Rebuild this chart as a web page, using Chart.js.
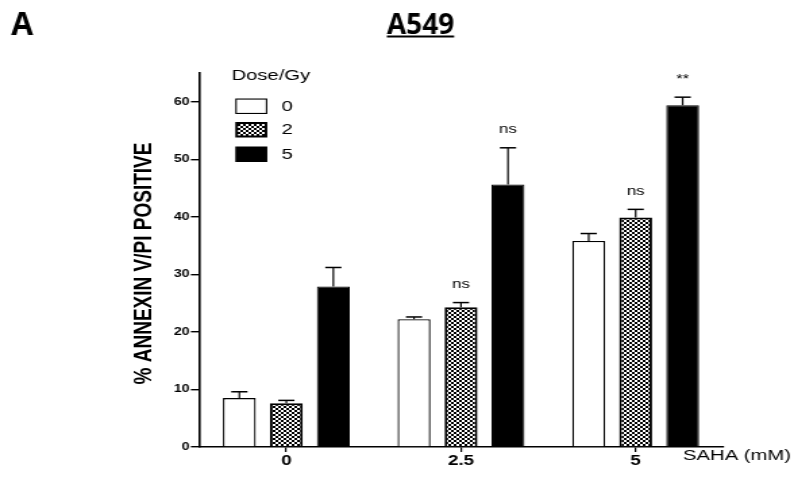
<!DOCTYPE html>
<html><head><meta charset="utf-8">
<script src="https://cdn.jsdelivr.net/npm/chart.js@4"></script>
<style>
html,body{margin:0;padding:0;background:#fff;overflow:hidden}
#wrap{width:588px;height:478px;transform:scaleX(1.3503401);transform-origin:0 0}
#c{display:block}
</style>
</head><body>
<div id="wrap"><canvas id="c" width="588" height="478" style="width:588px;height:478px"></canvas></div>
<script>
// ---- data ----
const categories = ['0', '2.5', '5'];          // SAHA (mM)
const doseLabels = ['0', '2', '5'];            // Dose/Gy
const dose0 = [8.5, 22.2, 35.8];
const dose2 = [7.6, 24.3, 39.9];
const dose5 = [27.9, 45.6, 59.4];
const err0 = [1.1, 0.4, 1.3];
const err2 = [0.5, 0.8, 1.4];
const err5 = [3.3, 6.4, 1.4];
const sig0 = ['', '', ''];
const sig2 = ['', 'ns', 'ns'];
const sig5 = ['', 'ns', '**'];
const yTicks = [0, 10, 20, 30, 40, 50, 60];
const yMax = 65;

// ---- horizontal stretch of the original figure ----
const S = 794 / 588;
const X = v => v / S;   // original px -> internal canvas px

const canvas = document.getElementById('c');
const ctx0 = canvas.getContext('2d');
const pc = document.createElement('canvas');
pc.width = 4; pc.height = 4;
const pctx = pc.getContext('2d');
pctx.fillStyle = '#fff'; pctx.fillRect(0, 0, 4, 4);
pctx.fillStyle = '#000'; pctx.fillRect(0, 0, 2, 2); pctx.fillRect(2, 2, 2, 2);
const checker = ctx0.createPattern(pc, 'repeat');

const fills = ['#ffffff', checker, '#000000'];
const borderW = [1.3, 2, 1];
const errs = [err0, err2, err5];
const sigs = [sig0, sig2, sig5];
const FONT = '"Liberation Sans", Arial, sans-serif';

const datasets = [dose0, dose2, dose5].map((d, i) => ({
  label: doseLabels[i],
  data: d,
  backgroundColor: fills[i],
  borderColor: '#000',
  borderWidth: borderW[i],
  borderSkipped: 'start',
  categoryPercentage: 0.807,
  barPercentage: 0.70
}));

const extras = {
  id: 'extras',
  afterDatasetsDraw(chart) {
    const ctx = chart.ctx;
    const ys = chart.scales.y;
    ctx.save();
    chart.data.datasets.forEach((ds, di) => {
      const meta = chart.getDatasetMeta(di);
      meta.data.forEach((bar, i) => {
        const top = ys.getPixelForValue(ds.data[i] + errs[di][i]);
        const x = bar.x;
        ctx.strokeStyle = '#000';
        ctx.lineWidth = 1.2;
        ctx.beginPath();
        ctx.moveTo(x, bar.y);
        ctx.lineTo(x, top);
        ctx.stroke();
        ctx.lineWidth = 1.5;
        ctx.beginPath();
        ctx.moveTo(x - 6, top);
        ctx.lineTo(x + 6, top);
        ctx.stroke();
        const s = sigs[di][i];
        if (s) {
          ctx.fillStyle = '#000';
          ctx.font = '12.5px ' + FONT;
          ctx.textAlign = 'center';
          ctx.textBaseline = 'middle';
          ctx.fillText(s, x, top - 18);
        }
      });
    });
    ctx.restore();
  },
  afterDraw(chart) {
    const ctx = chart.ctx;
    ctx.save();
    ctx.fillStyle = '#000';
    // y-axis title
    ctx.save();
    ctx.translate(X(144), 263.5);
    ctx.rotate(-Math.PI / 2);
    ctx.font = 'bold 19px ' + FONT;
    ctx.textAlign = 'center';
    ctx.textBaseline = 'middle';
    ctx.fillText('% ANNEXIN V/PI POSITIVE', 0, 0);
    ctx.restore();
    // x-axis title
    ctx.font = '15px ' + FONT;
    ctx.textAlign = 'left';
    ctx.textBaseline = 'middle';
    ctx.fillText('SAHA (mM)', X(683), 456);
    // legend
    ctx.font = '15px ' + FONT;
    ctx.fillText('Dose/Gy', X(231.5), 75.5);
    const rows = [98.5, 122, 146.5];
    chart.data.datasets.forEach((ds, i) => {
      const bx = X(235.3), bw = X(267.3) - X(235.3), by = rows[i], bh = 15.5;
      ctx.fillStyle = '#000';
      ctx.fillRect(bx, by, bw, bh);
      const bwid = i === 1 ? 2 : 1.1;
      ctx.fillStyle = ds.backgroundColor;
      if (i !== 2) ctx.fillRect(bx + bwid, by + bwid, bw - 2 * bwid, bh - 2 * bwid);
      ctx.fillStyle = '#000';
      ctx.font = '15px ' + FONT;
      ctx.textBaseline = 'middle';
      ctx.fillText(ds.label, X(281.7), by + bh / 2 + 0.5);
    });
    // panel letter and title (not stretched)
    ctx.save();
    ctx.scale(1 / S, 1);
    ctx.font = 'bold 32px "Open Sans", sans-serif';
    ctx.textAlign = 'left';
    ctx.textBaseline = 'alphabetic';
    ctx.fillText('A', 11, 35);
    ctx.font = 'bold 28px "Open Sans", sans-serif';
    ctx.textAlign = 'center';
    ctx.fillText('A549', 420.5, 33.5);
    const w = ctx.measureText('A549').width;
    ctx.fillRect(420.5 - w / 2, 35.5, w, 2);
    ctx.restore();
    ctx.restore();
  }
};

new Chart(canvas, {
  type: 'bar',
  data: { labels: categories, datasets },
  options: {
    responsive: false,
    animation: false,
    devicePixelRatio: 1,
    layout: { padding: { left: 0, right: 588 - X(723), top: 73, bottom: 0 } },
    plugins: { legend: { display: false }, title: { display: false }, tooltip: { enabled: false } },
    scales: {
      x: {
        offset: true,
        grid: { display: true, drawOnChartArea: false, offset: false, tickLength: 5, color: '#000', lineWidth: 1.2 },
        border: { display: true, color: '#000', width: 1.5 },
        ticks: { color: '#000', font: { family: FONT, size: 14, weight: 'bold' }, padding: 1, maxRotation: 0 },
        afterFit(scale) { scale.height = 478 - 447; }
      },
      y: {
        min: 0, max: yMax,
        afterBuildTicks(scale) { scale.ticks = yTicks.map(v => ({ value: v })); },
        grid: { display: true, drawOnChartArea: false, tickLength: 6, color: '#000', lineWidth: 1.4 },
        border: { display: true, color: '#000', width: 1.6 },
        ticks: { color: '#000', font: { family: FONT, size: 10.5, weight: 'bold' }, padding: 1 },
        afterFit(scale) { scale.width = X(199); }
      }
    }
  },
  plugins: [extras]
});
</script>
</body></html>
